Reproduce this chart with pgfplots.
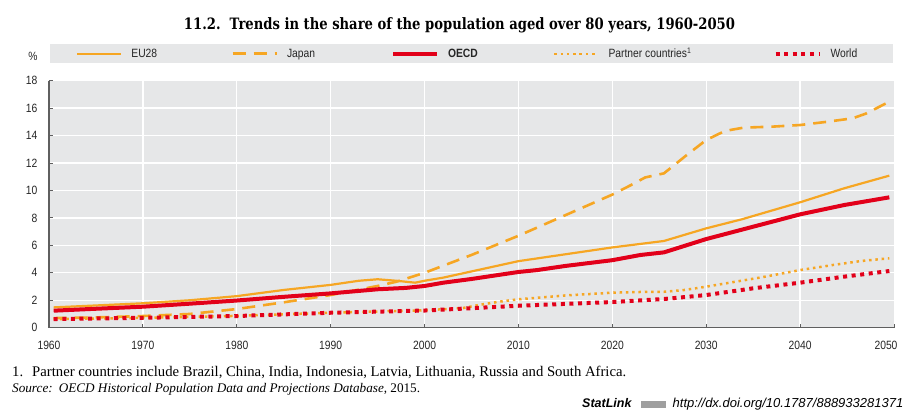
\documentclass[border=0pt]{standalone}
\usepackage{pgfplots}
\pgfplotsset{compat=1.18}
\usepackage{fontspec}
\setmainfont{Liberation Serif}
\newfontfamily\condfont[FakeStretch=0.86]{Liberation Sans}
\newfontfamily\plainsans{Liberation Sans}
\newfontfamily\titlefont[FakeStretch=0.84]{DejaVu Serif}
\definecolor{oorange}{RGB}{246,166,35}
\definecolor{ored}{RGB}{226,0,26}
\definecolor{bggray}{RGB}{230,231,232}
\definecolor{axgray}{RGB}{95,95,95}

\pgfplotstableread{
x y
1960.5 1.48
1965 1.62
1970 1.78
1975 2.00
1980 2.30
1985 2.75
1990 3.12
1993 3.42
1995 3.53
1997 3.42
1999 3.28
2000 3.42
2002 3.65
2005 4.10
2010 4.85
2012 5.05
2015 5.35
2020 5.85
2025.5 6.32
2030 7.24
2033.8 7.90
2040 9.14
2044.7 10.16
2049.5 11.08
}\eudata

\pgfplotstableread{
x y
1960.5 0.70
1965 0.75
1970 0.85
1975 1.00
1980 1.36
1985 1.85
1990 2.38
1995 3.04
1997 3.35
2000 4.00
2005 5.30
2010 6.70
2015 8.20
2020 9.70
2022 10.40
2023.5 10.95
2025.5 11.25
2027.7 12.46
2030 13.68
2032 14.34
2034 14.58
2037 14.65
2040 14.77
2042.8 15.00
2045.6 15.26
2047 15.60
2049.5 16.47
}\jpdata

\pgfplotstableread{
x y
1960.5 1.24
1965 1.38
1970 1.53
1975 1.75
1980 1.98
1985 2.25
1990 2.50
1995 2.80
1998 2.90
2000 3.04
2002 3.28
2005 3.55
2010 4.06
2012 4.20
2015 4.50
2020 4.92
2023 5.30
2025.5 5.49
2030 6.46
2035 7.36
2040 8.26
2044.7 8.94
2049.5 9.50
}\oecddata

\pgfplotstableread{
x y
1960.5 0.62
1970 0.72
1980 0.86
1990 1.09
2000 1.27
2004 1.42
2006 1.68
2008 1.90
2010 2.07
2015 2.35
2020 2.55
2022.7 2.60
2025.6 2.62
2027.7 2.75
2030 2.99
2033.8 3.43
2036.3 3.72
2040 4.20
2043.5 4.57
2046.5 4.86
2049.5 5.06
}\ptdata

\pgfplotstableread{
x y
1960.5 0.63
1970 0.72
1980 0.85
1990 1.09
2000 1.25
2005 1.42
2010 1.60
2020 1.87
2025.5 2.09
2030 2.38
2035 2.87
2040 3.28
2044.7 3.72
2049.5 4.13
}\wddata

\begin{document}
\begin{tikzpicture}
\useasboundingbox (-49pt,-91.3pt) rectangle (871pt,327.7pt);
% legend band
\fill[bggray] (1pt,264.4pt) rectangle (844pt,283.4pt);
% unit label
\node[anchor=base, inner sep=0pt, font=\condfont\fontsize{12}{13}\selectfont, text=black!85] at (-16pt,266.7pt) {\%};
% title
\node[anchor=base, inner sep=0pt] at (410.5pt,298.4pt) {\resizebox{551pt}{!}{\titlefont\bfseries 11.2.\ \ Trends in the share of the population aged over 80 years, 1960-2050}};
\begin{axis}[
  at={(0,0)}, anchor=south west,
  width=845pt, height=247pt, scale only axis,
  xmin=1960, xmax=2050, ymin=0, ymax=18,
  axis background/.style={fill=bggray},
  axis x line*=bottom, axis y line*=left,
  axis line style={axgray, line width=1.6pt, -},
  xtick={1960,1970,...,2040},
  extra x ticks={2050},
  extra x tick style={grid=none, xticklabel style={xshift=-8pt}},
  ytick={0,2,...,18},
  grid=major,
  major grid style={white, line width=1.3pt},
  tick style={axgray, line width=1pt},
  major tick length=4pt, tick align=inside,
  /pgf/number format/assume math mode=true,
  tick label style={font=\condfont\fontsize{12}{13}\selectfont, text=black!85},
  xticklabel style={yshift=-10pt},
  yticklabel style={xshift=-8pt},
  /pgf/number format/1000 sep={},
  legend columns=5,
  legend style={at={(axis description cs:0,1)}, anchor=west, xshift=27pt, yshift=26.9pt,
    draw=none, fill=none, inner xsep=0pt, inner ysep=0pt,
    nodes={inner sep=0pt},
    font=\condfont\fontsize{12}{13}\selectfont, text=black!85,
    column sep=0pt},
  legend cell align=left,
  legend image code/.code={\draw[#1] (0pt,0pt) -- (44pt,0pt);},
]
\addplot[oorange, line width=2.2pt] table {\eudata};
\addlegendentry{\makebox[109pt][l]{\hspace{9pt}EU28}}
\addplot[oorange, line width=2.6pt, dash pattern=on 13pt off 8pt] table {\jpdata};
\addlegendentry{\makebox[113pt][l]{\hspace{9pt}Japan}}
\addplot[ored, line width=4pt] table {\oecddata};
\addlegendentry{\makebox[114pt][l]{\hspace{9pt}\textbf{OECD}}}
\addplot[oorange, line width=2.5pt, dash pattern=on 2.5pt off 3.8pt] table {\ptdata};
\addlegendentry{\makebox[174pt][l]{\hspace{9pt}Partner countries\textsuperscript{1}}}
\addplot[ored, line width=4pt, dash pattern=on 4pt off 4.6pt] table {\wddata};
\addlegendentry{\makebox[60pt][l]{\hspace{9pt}World}}
\end{axis}
% footnotes
\node[anchor=base west, inner sep=0pt, font=\fontsize{14.7}{16}\selectfont] at (-37pt,-49pt) {1.\hspace{9pt}Partner countries include Brazil, China, India, Indonesia, Latvia, Lithuania, Russia and South Africa.};
\node[anchor=base west, inner sep=0pt, font=\fontsize{13.2}{15}\selectfont] at (-37pt,-64.6pt) {\textit{Source:}\hspace{6pt}\textit{OECD Historical Population Data and Projections Database}, 2015.};
\node[anchor=base east, inner sep=0pt, font=\plainsans\itshape\fontsize{13}{14}\selectfont] at (854.5pt,-80pt) {http://dx.doi.org/10.1787/888933281371};
\node[anchor=base west, inner sep=0pt, font=\plainsans\bfseries\itshape\fontsize{12.5}{14}\selectfont] at (533pt,-80pt) {StatLink};
\fill[gray!75] (592pt,-80.5pt) rectangle (617pt,-73.5pt);
\end{tikzpicture}
\end{document}
